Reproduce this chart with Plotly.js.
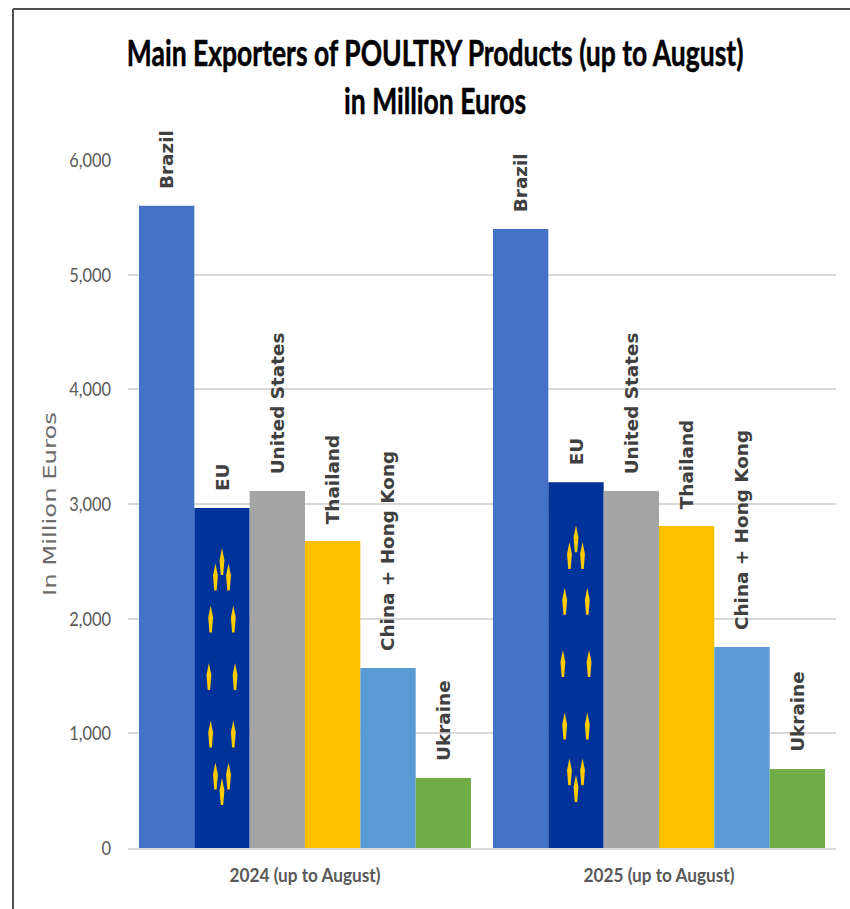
<!DOCTYPE html>
<html><head><meta charset="utf-8"><script src="https://cdn.plot.ly/plotly-3.0.1.min.js"></script>
<style>html,body{margin:0;padding:0;background:#fff}#c{width:850px;height:909px}</style></head>
<body><div id="c"></div>
<script>
const categories = ["2024 (up to August)", "2025 (up to August)"];
const exporters = ["Brazil", "EU", "United States", "Thailand", "China + Hong Kong", "Ukraine"];
const brazil = [5600, 5398];
const eu = [2965, 3190];
const unitedStates = [3113, 3113];
const thailand = [2677, 2808];
const chinaHongKong = [1570, 1753];
const ukraine = [610, 689];
const colors = ["#4472C4", "#003399", "#A5A5A5", "#FFC000", "#5B9BD5", "#70AD47"];
const yTicks = [0, 1000, 2000, 3000, 4000, 5000, 6000];
const yTickLabels = ["0", "1,000", "2,000", "3,000", "4,000", "5,000", "6,000"];
const series = [brazil, eu, unitedStates, thailand, chinaHongKong, ukraine];
const bargap = 0.062;
const body = 'Lato, "Open Sans", sans-serif';

const traces = series.map((vals, i) => ({
  type: 'bar', name: exporters[i], x: categories, y: vals,
  marker: {color: colors[i], line: {width: 0}},
  cliponaxis: false, hoverinfo: 'x+y+name'
}));

function flag(w, h, rx, ry) {
  let s = '';
  for (let a = 0; a < 12; a++) {
    const t = a * Math.PI / 6, cx = w/2 + rx*Math.sin(t), cy = h/2 - ry*Math.cos(t);
    s += `<path d="M${cx} ${cy-15} L${cx+2.4} ${cy-3} L${cx+1.2} ${cy+12} L${cx-1.2} ${cy+12} L${cx-2.4} ${cy-3}Z" fill="#FFCC00"/>`;
  }
  return 'data:image/svg+xml;base64,' + btoa(`<svg xmlns="http://www.w3.org/2000/svg" width="${w}" height="${h}" viewBox="0 0 ${w} ${h}">${s}</svg>`);
}
const barW = (1 - bargap) / 6;
const images = categories.map((c, k) => ({
  source: flag(55, k ? 366 : 340, 13, k ? 125 : 115),
  xref: 'x', yref: 'y', xanchor: 'left', yanchor: 'top', sizing: 'stretch', layer: 'above',
  x: k - (1 - bargap)/2 + barW, y: eu[k], sizex: barW, sizey: eu[k]
}));
const annotations = [];
series.forEach((vals, i) => vals.forEach((v, k) => annotations.push({
  xref: 'x', yref: 'y', x: k - (1 - bargap)/2 + (i + 0.5) * barW, y: v,
  text: exporters[i], showarrow: false, textangle: -90, xanchor: 'center', yanchor: 'bottom', yshift: 15,
  font: {family: 'DejaVu Sans', size: 18.4, color: '#404040', weight: 'bold'}
})));

const fr = (px) => (px - 128) / 708;
const fy = (py) => (848 - py) / 688;
const layout = {
  width: 850, height: 909, autosize: false,
  margin: {l: 128, r: 14, t: 160, b: 61, pad: 0},
  paper_bgcolor: '#fff', plot_bgcolor: '#fff', showlegend: false,
  barmode: 'group', bargap: bargap, bargroupgap: 0,
  title: {text: 'Main Exporters of POULTRY Products (up to August)<br>in Million Euros',
    font: {family: body, size: 37, color: '#000', weight: 'bold'},
    x: 0.512, xanchor: 'center', y: 0.927, yanchor: 'top'},
  xaxis: {type: 'category', categories: categories, showgrid: false, showline: true, linecolor: '#d9d9d9', linewidth: 2,
    ticks: '', tickfont: {family: body, size: 18, color: '#595959', weight: 'bold'}, ticklabelstandoff: 10},
  yaxis: {range: [0, 6000], tickvals: yTicks, ticktext: yTickLabels, showgrid: true, gridcolor: '#d9d9d9', gridwidth: 2,
    zeroline: false, showline: false, ticks: '', tickfont: {family: body, size: 20, color: '#595959'},
    ticklabelstandoff: 16,
    title: {text: 'In Million Euros', font: {family: 'DejaVu Sans', size: 18, color: '#6b6b6b'}, standoff: 10}},
  images: images,
  annotations: annotations,
  shapes: [
    {type: 'line', xref: 'paper', yref: 'paper', x0: fr(13), x1: fr(13), y0: fy(9), y1: fy(909), line: {color: '#505050', width: 2}},
    {type: 'line', xref: 'paper', yref: 'paper', x0: fr(13), x1: fr(850), y0: fy(9), y1: fy(9), line: {color: '#505050', width: 2}}
  ]
};
function fit(el, len) {
  el.setAttribute('textLength', len);
  el.setAttribute('lengthAdjust', 'spacingAndGlyphs');
}
Plotly.newPlot('c', traces, layout, {displayModeBar: false, staticPlot: true}).then(() => {
  const root = document.getElementById('c');
  const title = root.querySelector('.gtitle');
  if (title) {
    const line = title.querySelector('tspan.line');
    const f = 617 / (line ? line.getComputedTextLength() : title.getComputedTextLength());
    const cx = 435;
    title.setAttribute('transform', `translate(${cx},0) scale(${f},1) translate(${-cx},0)`);
    title.style.stroke = '#000';
    title.style.strokeWidth = '0.5px';
  }
  root.querySelectorAll('.xtick text').forEach(t => fit(t, 151));
  root.querySelectorAll('.ytick text').forEach(t => fit(t, t.getComputedTextLength() * 0.82));
  const yt = root.querySelector('.ytitle');
  if (yt) {
    fit(yt, 184);
    yt.setAttribute('transform', 'translate(12,0) ' + (yt.getAttribute('transform') || ''));
  }
});
</script></body></html>
